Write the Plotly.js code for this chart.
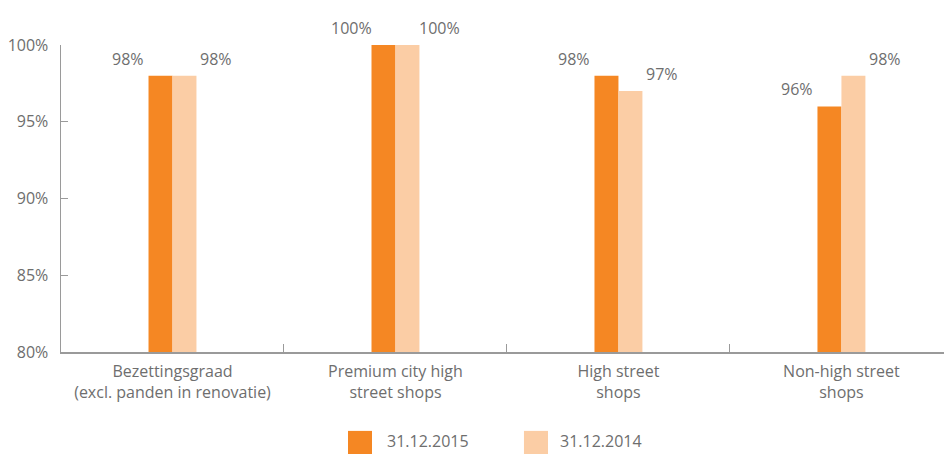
<!DOCTYPE html>
<html><head><meta charset="utf-8">
<script src="https://cdn.plot.ly/plotly-3.0.1.min.js"></script>
<style>html,body{margin:0;padding:0;background:#fff;overflow:hidden}</style>
</head><body><div id="chart" style="width:944px;height:454px"></div>
<script>
const categories = ["Bezettingsgraad<br>(excl. panden in renovatie)", "Premium city high<br>street shops", "High street<br>shops", "Non-high street<br>shops"];
const series2015 = [98, 100, 98, 96];
const series2014 = [98, 100, 97, 98];
const seriesNames = ["31.12.2015", "31.12.2014"];
const yTickVals = [80, 85, 90, 95, 100];
const yTickText = ["80%", "85%", "90%", "95%", "100%"];

const ORANGE = "#F58723", LIGHT = "#FBCDA5", TXT = "#6e6e6e", AX = "#9a9a9a";
const FONT = "Open Sans, DejaVu Sans, sans-serif";

const traces = [
  {type: "bar", x: categories, y: series2015, name: seriesNames[0], marker: {color: ORANGE, line: {width: 0}}, showlegend: false, hoverinfo: "skip"},
  {type: "bar", x: categories, y: series2014, name: seriesNames[1], marker: {color: LIGHT, line: {width: 0}}, showlegend: false, hoverinfo: "skip"}
];

const annotations = [];
categories.forEach((c, i) => {
  annotations.push({x: c, y: series2015[i], xref: "x", yref: "y", text: series2015[i] + "%", showarrow: false,
    xanchor: "center", yanchor: "bottom", xshift: -44, yshift: 4, font: {family: FONT, size: 16, color: TXT}});
  annotations.push({x: c, y: series2014[i], xref: "x", yref: "y", text: series2014[i] + "%", showarrow: false,
    xanchor: "center", yanchor: "bottom", xshift: 44, yshift: 4, font: {family: FONT, size: 16, color: TXT}});
});
// custom legend
const legendItems = [
  {x0: 0.325, x1: 0.3522, tx: 0.367, color: ORANGE, name: seriesNames[0]},
  {x0: 0.5243, x1: 0.5515, tx: 0.5625, color: LIGHT, name: seriesNames[1]}
];
const shapes = [];
legendItems.forEach(it => {
  shapes.push({type: "rect", xref: "paper", yref: "paper", x0: it.x0, x1: it.x1, y0: -0.257, y1: -0.34,
    fillcolor: it.color, line: {width: 0}});
  annotations.push({xref: "paper", yref: "paper", x: it.tx, y: -0.291, text: it.name, showarrow: false,
    xanchor: "left", yanchor: "middle", font: {family: FONT, size: 16, color: TXT}});
});

const layout = {
  width: 944, height: 454,
  margin: {l: 61, r: 0, t: 45, b: 102, pad: 0},
  paper_bgcolor: "#fff", plot_bgcolor: "#fff",
  barmode: "group", bargap: 0.785, bargroupgap: 0,
  showlegend: false,
  font: {family: FONT, size: 16, color: TXT},
  xaxis: {type: "category", range: [-0.5, 3.46], showline: true, linecolor: AX, linewidth: 1.5,
    ticks: "inside", tickson: "boundaries", ticklen: 8, tickcolor: AX, tickwidth: 1,
    showgrid: false, zeroline: false, fixedrange: true, ticklabelstandoff: 4,
    tickfont: {family: FONT, size: 16, color: TXT}},
  yaxis: {range: [80, 100], tickvals: yTickVals, ticktext: yTickText, showline: true, linecolor: AX, linewidth: 1.5,
    ticks: "inside", ticklen: 7, tickcolor: AX, tickwidth: 1, showgrid: false, zeroline: false,
    ticklabelstandoff: 8, tickfont: {family: FONT, size: 16, color: TXT}},
  annotations: annotations,
  shapes: shapes
};
Plotly.newPlot("chart", traces, layout, {displayModeBar: false, staticPlot: true});
</script></body></html>
